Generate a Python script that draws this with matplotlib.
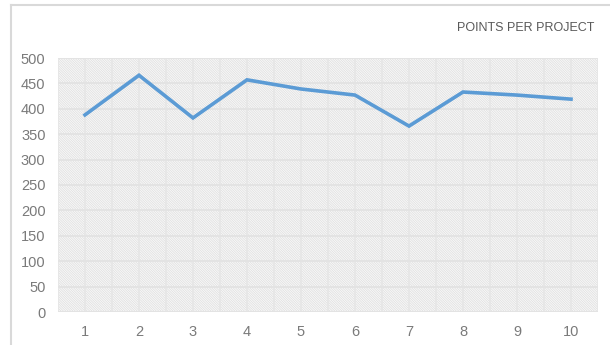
import matplotlib.pyplot as plt
from matplotlib.lines import Line2D
from matplotlib.patches import Rectangle

# data
projects = [1, 2, 3, 4, 5, 6, 7, 8, 9, 10]
points = [388, 466, 382, 457, 439, 427, 366, 433, 427, 419]
y_ticks = [0, 50, 100, 150, 200, 250, 300, 350, 400, 450, 500]

plt.rcParams['font.family'] = ['Liberation Sans', 'DejaVu Sans']
plt.rcParams['hatch.color'] = '#dedede'
plt.rcParams['hatch.linewidth'] = 0.5

fig = plt.figure(figsize=(6.1, 3.45), dpi=100)
ax = fig.add_axes([58/610, 33/345, 540/610, 254/345])

# hatched plot background, fine diagonal lines
bg = Rectangle((0, 0), 1, 1, transform=ax.transAxes, facecolor='#f8f8f8',
               edgecolor='#dedede', hatch='\\' * 14, linewidth=0, zorder=0)
ax.add_patch(bg)

# grid: one vertical line per category centre and boundary
for x in [p - 0.5 for p in projects] + projects + [10.5]:
    ax.axvline(x, color='#e6e6e6', lw=1.2, zorder=1)
for y in y_ticks:
    ax.axhline(y, color='#e3e3e3', lw=1.4, zorder=1)

ax.plot(projects, points, color='#5b9bd5', lw=2.6, solid_joinstyle='miter', zorder=3)

ax.set_xlim(0.5, 10.5)
ax.set_ylim(0, 500)
ax.set_xticks(projects)
ax.set_yticks(y_ticks)
ax.tick_params(length=0, labelsize=10.5, colors='#7a7a7a')
ax.tick_params(axis='x', pad=9)
ax.tick_params(axis='y', pad=9)
for s in ax.spines.values():
    s.set_visible(False)

fig.text(594/610, 1 - 28/345, 'POINTS PER PROJECT', ha='right', va='center',
         fontsize=9, color='#595959',
         family=['Liberation Sans Narrow', 'Liberation Sans', 'DejaVu Sans'])

# outer chart border (left and top only visible)
fig.add_artist(Line2D([11/610, 11/610], [0, 1 - 5/345], color='#d9d9d9', lw=1.5))
fig.add_artist(Line2D([11/610, 1], [1 - 5/345, 1 - 5/345], color='#d9d9d9', lw=1.5))

fig.savefig('out.png', dpi=100)
